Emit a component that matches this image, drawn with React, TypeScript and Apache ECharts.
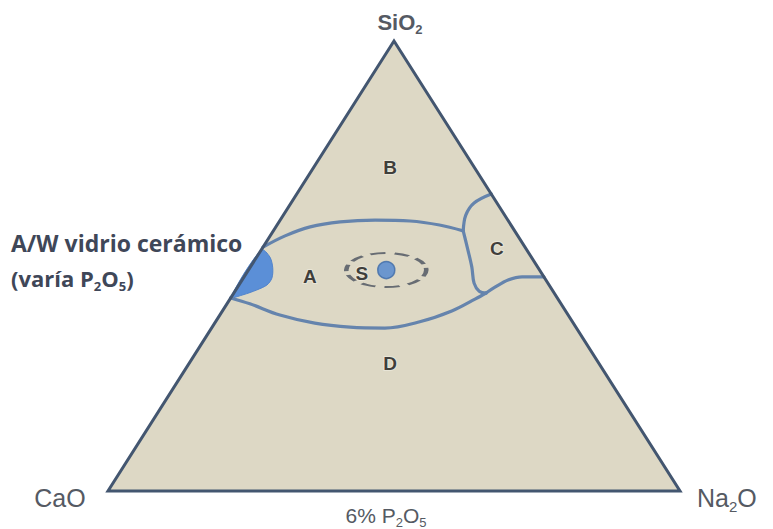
import React, { useEffect, useRef } from "react";
import * as echarts from "echarts";

// Compositions are [SiO2, CaO, Na2O] in wt% (at a fixed 6% P2O5).
type Comp = [number, number, number];

const cornerComps: Comp[] = [
  [100, 0, 0],
  [0, 100, 0],
  [0, 0, 100],
];

// Upper border of region A (from the CaO–SiO2 side to the triple junction)
const borderUpperA: Comp[] = [
  [54.2, 45.8, 0],
  [56.7, 40.7, 2.6],
  [58.7, 35.3, 6.0],
  [59.8, 29.5, 10.7],
  [60.2, 23.2, 16.6],
  [60.0, 17.2, 22.8],
  [59.1, 12.5, 28.4],
  [57.8, 9.0, 33.2],
];

// Upper border of region C (junction to the SiO2–Na2O side)
const borderUpperC: Comp[] = [
  [57.8, 9.0, 33.2],
  [61.3, 6.8, 31.9],
  [64.0, 4.0, 32.0],
  [66.0, 0, 34.0],
];

// Left border of region C
const borderLeftC: Comp[] = [
  [57.8, 9.0, 33.2],
  [54.2, 10.1, 35.7],
  [49.8, 11.5, 38.7],
  [46.2, 12.9, 40.9],
  [44.4, 12.9, 42.7],
  [44.0, 11.9, 44.1],
];

// Lower border of region C
const borderLowerC: Comp[] = [
  [44.0, 11.9, 44.1],
  [45.3, 9.7, 45.0],
  [46.9, 6.6, 46.5],
  [47.6, 3.8, 48.6],
  [47.6, 0, 52.4],
];

// Lower border of region A
const borderLowerA: Comp[] = [
  [42.9, 57.1, 0],
  [41.6, 54.4, 4.0],
  [39.1, 50.4, 10.5],
  [37.3, 45.2, 17.5],
  [36.4, 39.5, 24.1],
  [36.2, 33.5, 30.3],
  [37.6, 26.7, 35.7],
  [40.0, 19.9, 40.1],
  [42.7, 14.4, 42.9],
  [44.0, 11.9, 44.1],
];

// A/W glass-ceramic field on the CaO–SiO2 side
const fieldAW: Comp[] = [
  [53.6, 46.4, 0],
  [52.0, 45.7, 2.3],
  [49.6, 46.4, 4.0],
  [47.3, 47.7, 5.0],
  [45.8, 49.3, 4.9],
  [44.7, 51.6, 3.7],
  [43.6, 54.6, 1.8],
  [43.1, 56.9, 0],
];

const regionNames = ["A", "B", "C", "D", "S"];
const regionLabelComps: Comp[] = [
  [47.6, 40.9, 11.5],
  [72.0, 14.7, 13.3],
  [54.0, 5.0, 41.0],
  [28.4, 36.5, 35.1],
  [48.4, 31.4, 20.2],
];

// 45S5 Bioglass composition and its surrounding field
const bioglass45S5: Comp = [49.1, 26.8, 24.1];

const toXY = ([s, , n]: Comp): [number, number] => [n + s / 2, s];

const FILL = "#ddd8c5";
const OUTLINE = "#435670";
const BORDER = "#6584ad";
const SANS = "'Liberation Sans', Arial, sans-serif";
const HUMANIST = "'Open Sans', 'Noto Sans', sans-serif";
const GREY = "#555a63";
const SLATE = "#3f4758";

function polygonSeries(points: Comp[], style: any, z: number, smooth = 0) {
  return {
    type: "custom",
    coordinateSystem: "cartesian2d",
    silent: true,
    z,
    data: [[0, 0]],
    renderItem: (_params: any, api: any) => ({
      type: "polygon",
      shape: { points: points.map((p) => api.coord(toXY(p))), smooth },
      style,
    }),
  };
}

function borderSeries(points: Comp[]) {
  return {
    type: "line",
    data: points.map(toXY),
    smooth: 0.35,
    symbol: "none",
    silent: true,
    z: 3,
    lineStyle: { color: BORDER, width: 3.2, cap: "round", join: "round" },
  };
}

function subText(main: string, sub: string) {
  return `{m|${main}}{s|${sub}}`;
}

export default function App() {
  const ref = useRef<HTMLDivElement>(null);

  useEffect(() => {
    if (!ref.current) return;
    const chart = echarts.init(ref.current, undefined, { renderer: "svg" });

    const richStyle = (family: string, size: number, weight: string, fill: string) => ({
      m: { fontSize: size, fontWeight: weight, fontFamily: family, fill, lineHeight: size + 6 },
      s: {
        fontSize: Math.round(size * 0.6),
        fontWeight: weight,
        fontFamily: family,
        fill,
        verticalAlign: "bottom",
        lineHeight: Math.round(size * 0.6) + 1,
      },
    });

    chart.setOption({
      animation: false,
      grid: { left: 108, top: 41, width: 572, height: 450 },
      xAxis: { type: "value", min: 0, max: 100, show: false },
      yAxis: { type: "value", min: 0, max: 100, show: false },
      series: [
        polygonSeries(cornerComps, { fill: FILL, stroke: "none" }, 1),
        polygonSeries(fieldAW, { fill: "#5b8fd7", stroke: "#5284cc", lineWidth: 1 }, 2, 0.3),
        borderSeries(borderUpperA),
        borderSeries(borderUpperC),
        borderSeries(borderLeftC),
        borderSeries(borderLowerC),
        borderSeries(borderLowerA),
        polygonSeries(
          cornerComps,
          { fill: "none", stroke: OUTLINE, lineWidth: 3, lineJoin: "miter" },
          4
        ),
        {
          type: "scatter",
          silent: true,
          z: 5,
          data: [toXY(bioglass45S5)],
          symbol: "circle",
          symbolSize: [80, 34],
          itemStyle: {
            color: "rgba(0,0,0,0)",
            borderColor: "#4a515e",
            borderWidth: 3,
            borderType: [10, 6],
          },
        },
        {
          type: "scatter",
          silent: true,
          z: 6,
          data: [toXY(bioglass45S5)],
          symbol: "circle",
          symbolSize: 17,
          itemStyle: { color: "#4f86cf", borderColor: "#3d6aa8", borderWidth: 1.5 },
        },
        {
          type: "scatter",
          silent: true,
          z: 7,
          symbolSize: 0,
          data: regionLabelComps.map((c, i) => ({ name: regionNames[i], value: toXY(c) })),
          label: {
            show: true,
            position: "inside",
            formatter: "{b}",
            fontFamily: SANS,
            fontWeight: "bold",
            fontSize: 19,
            color: "#111111",
            textBorderColor: "rgba(240,237,226,0.8)",
            textBorderWidth: 2,
          },
        },
      ],
      graphic: [
        {
          type: "text",
          x: 400,
          y: 22,
          style: {
            text: subText("SiO", "2"),
            rich: richStyle(SANS, 22, "bold", GREY),
            align: "center",
            verticalAlign: "middle",
          },
        },
        {
          type: "text",
          x: 60,
          y: 498,
          style: {
            text: "{m|CaO}",
            rich: richStyle(SANS, 25, "normal", GREY),
            align: "center",
            verticalAlign: "middle",
          },
        },
        {
          type: "text",
          x: 697,
          y: 498,
          style: {
            text: `{m|Na}{s|2}{m|O}`,
            rich: richStyle(SANS, 25, "normal", GREY),
            align: "left",
            verticalAlign: "middle",
          },
        },
        {
          type: "text",
          x: 386,
          y: 515,
          style: {
            text: `{m|6% P}{s|2}{m|O}{s|5}`,
            rich: richStyle(SANS, 21, "normal", GREY),
            align: "center",
            verticalAlign: "middle",
          },
        },
        {
          type: "text",
          x: 11,
          y: 243,
          style: {
            text: "A/W vidrio cerámico",
            fontFamily: HUMANIST,
            fontWeight: "bold",
            fontSize: 23,
            fill: SLATE,
            align: "left",
            verticalAlign: "middle",
          },
        },
        {
          type: "text",
          x: 11,
          y: 278,
          style: {
            text: "{m|(varía P}{s|2}{m|O}{s|5}{m|)}",
            rich: {
              m: { fontFamily: HUMANIST, fontWeight: "bold", fontSize: 22, fill: SLATE, lineHeight: 28 },
              s: {
                fontFamily: HUMANIST,
                fontWeight: "bold",
                fontSize: 13,
                fill: SLATE,
                verticalAlign: "bottom",
                lineHeight: 14,
              },
            },
            align: "left",
            verticalAlign: "middle",
          },
        },
      ],
    });

    return () => chart.dispose();
  }, []);

  return (
    <div
      ref={ref}
      style={{ position: "fixed", left: 0, top: 0, width: 773, height: 529, background: "#fff" }}
    />
  );
}
